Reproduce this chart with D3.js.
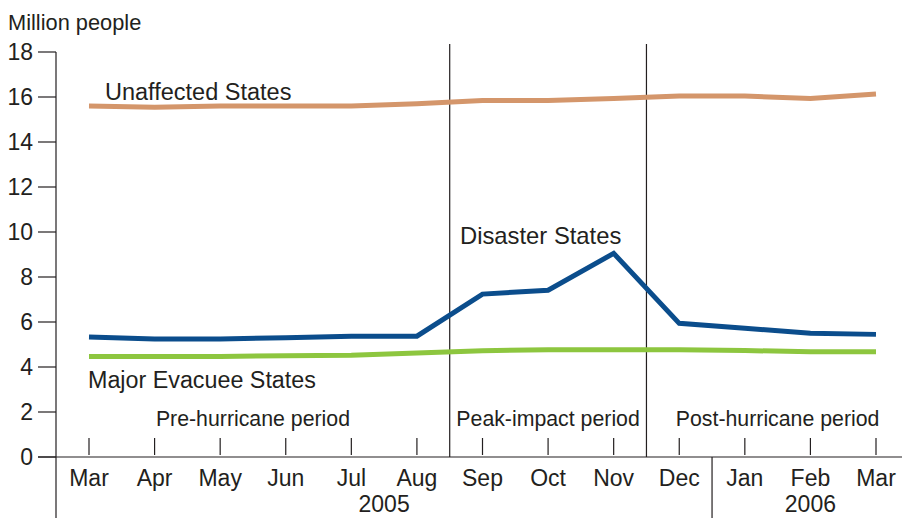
<!DOCTYPE html>
<html><head><meta charset="utf-8">
<script src="https://cdn.jsdelivr.net/npm/d3@7"></script>
<style>body{margin:0;background:#fff}text{font-family:"Liberation Sans",Arial,sans-serif;fill:#231f20}</style>
</head><body><svg id="c" width="902" height="518"></svg>
<script>
const months = ["Mar","Apr","May","Jun","Jul","Aug","Sep","Oct","Nov","Dec","Jan","Feb","Mar"];
const unaffected = [15.6,15.55,15.6,15.6,15.6,15.7,15.84,15.84,15.93,16.04,16.04,15.93,16.13];
const disaster = [5.33,5.25,5.25,5.3,5.37,5.37,7.24,7.41,9.05,5.94,5.72,5.5,5.45];
const evacuee = [4.47,4.47,4.47,4.5,4.52,4.62,4.72,4.77,4.77,4.77,4.73,4.68,4.68];
const yTicks = [0,2,4,6,8,10,12,14,16,18];
const periods = [{label:"Pre-hurricane period",from:0,to:5},{label:"Peak-impact period",from:6,to:8},{label:"Post-hurricane period",from:9,to:12}];
const years = [{label:"2005",at:4.5},{label:"2006",at:11}];

const svg = d3.select("#c");
const idx = d3.range(months.length);
const x = d3.scalePoint().domain(idx).range([89,876]);
const y = d3.scaleLinear().domain([0,18]).range([457,52]);
const step = x.step();
const xc = v => 89 + v*step;

// axes
svg.append("line").attr("x1",56).attr("x2",56).attr("y1",y(18)).attr("y2",518).attr("stroke","#231f20").attr("stroke-width",1.2);
svg.append("line").attr("x1",38).attr("x2",902).attr("y1",y(0)).attr("y2",y(0)).attr("stroke","#231f20").attr("stroke-width",1.2);
yTicks.forEach(t=>{
  svg.append("line").attr("x1",38).attr("x2",56).attr("y1",y(t)).attr("y2",y(t)).attr("stroke","#231f20").attr("stroke-width",1.2);
  svg.append("text").attr("x",33).attr("y",y(t)+8).attr("text-anchor","end").attr("font-size",23).text(t);
});
idx.forEach(i=>{
  svg.append("line").attr("x1",x(i)).attr("x2",x(i)).attr("y1",438).attr("y2",455).attr("stroke","#231f20").attr("stroke-width",1.2);
  svg.append("text").attr("x",x(i)).attr("y",486).attr("text-anchor","middle").attr("font-size",23).text(months[i]);
});
svg.append("text").attr("x",8).attr("y",30).attr("font-size",21.8).text("Million people");

// period dividers
[5,8].forEach(i=>{
  const xv = x(i)+step/2;
  svg.append("line").attr("x1",xv).attr("x2",xv).attr("y1",44).attr("y2",y(0)).attr("stroke","#231f20").attr("stroke-width",1.2);
});
svg.append("line").attr("x1",x(9)+step/2).attr("x2",x(9)+step/2).attr("y1",y(0)).attr("y2",518).attr("stroke","#231f20").attr("stroke-width",1.2);
periods.forEach(p=>{
  svg.append("text").attr("x",(x(p.from)+x(p.to))/2).attr("y",426).attr("text-anchor","middle").attr("font-size",21.3).text(p.label);
});
years.forEach(yr=>{
  svg.append("text").attr("x",xc(yr.at)).attr("y",512).attr("text-anchor","middle").attr("font-size",23).text(yr.label);
});

const line = d3.line().x((d,i)=>x(i)).y(d=>y(d));
[[unaffected,"#d4966b"],[evacuee,"#8dc63f"],[disaster,"#0b4d8c"]].forEach(([s,c])=>{
  svg.append("path").attr("d",line(s)).attr("fill","none").attr("stroke",c).attr("stroke-width",5).attr("stroke-linejoin","miter");
});
svg.append("text").attr("x",105).attr("y",100).attr("font-size",23.5).text("Unaffected States");
svg.append("text").attr("x",460).attr("y",244).attr("font-size",23.8).text("Disaster States");
svg.append("text").attr("x",88).attr("y",388).attr("font-size",23.3).text("Major Evacuee States");
</script></body></html>
